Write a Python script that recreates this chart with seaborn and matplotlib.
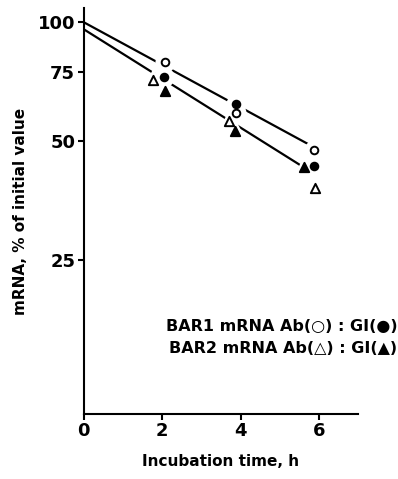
import numpy as np
import pandas as pd
import seaborn as sns
import matplotlib
matplotlib.use("Agg")
import matplotlib.pyplot as plt

# Data (time in h, mRNA as % of initial value)
bar1_ab_time = [2.08, 3.89, 5.87]
bar1_ab_value = [79.3, 59.0, 47.5]
bar1_gi_time = [2.05, 3.89, 5.87]
bar1_gi_value = [72.6, 62.0, 43.3]
bar2_ab_time = [1.78, 3.70, 5.91]
bar2_ab_value = [71.3, 56.2, 38.0]
bar2_gi_time = [2.08, 3.87, 5.61]
bar2_gi_value = [67.0, 53.0, 43.0]

# Fitted decay lines
fit1_time = [0, 6]
fit1_value = [100, 47.5]
fit2_time = [0, 5.6]
fit2_value = [96, 43]

y_ticks = [25, 50, 75, 100]
x_ticks = [0, 2, 4, 6]

sns.set_style("ticks")
plt.rcParams["font.family"] = ["DejaVu Sans"]
plt.rcParams["text.color"] = "black"
plt.rcParams["axes.labelcolor"] = "black"

fig = plt.figure(figsize=(3.98, 4.79), dpi=100)
ax = fig.add_axes([0.21, 0.1357, 0.69, 0.8473])

# fit lines
for t, v in [(fit1_time, fit1_value), (fit2_time, fit2_value)]:
    sns.lineplot(x=t, y=v, ax=ax, color="black", linewidth=1.6)
for ln in ax.lines:
    ln.set_zorder(2)

series = [
    (bar1_ab_time, bar1_ab_value, "o", "white", 30),
    (bar1_gi_time, bar1_gi_value, "o", "black", 30),
    (bar2_ab_time, bar2_ab_value, "^", "white", 45),
    (bar2_gi_time, bar2_gi_value, "^", "black", 45),
]

# white halos so the lines break around the symbols
for t, v, m, fc, s in series:
    sns.scatterplot(x=t, y=v, ax=ax, marker=m, s=s * 7, color="white",
                    edgecolor="white", linewidth=0)
    ax.collections[-1].set_zorder(3)
for t, v, m, fc, s in series:
    sns.scatterplot(x=t, y=v, ax=ax, marker=m, s=s, color=fc,
                    edgecolor="black", linewidth=1.4)
    ax.collections[-1].set_zorder(4)

ax.set_yscale("log")
ax.set_ylim(10.2, 108.5)
ax.set_xlim(0, 7)
ax.set_yticks(y_ticks)
ax.set_yticklabels([str(v) for v in y_ticks])
ax.yaxis.set_minor_locator(matplotlib.ticker.NullLocator())
ax.set_xticks(x_ticks)
ax.set_xticklabels([str(v) for v in x_ticks])

for side in ["top", "right"]:
    ax.spines[side].set_visible(False)
for side in ["left", "bottom"]:
    ax.spines[side].set_linewidth(1.5)
    ax.spines[side].set_color("black")
ax.tick_params(axis="both", direction="out", length=4, width=1.5,
               labelsize=13, colors="black", pad=2)
for lab in ax.get_xticklabels() + ax.get_yticklabels():
    lab.set_fontweight("bold")

ax.set_ylabel("mRNA, % of initial value", fontsize=11, fontweight="bold",
              labelpad=7)
ax.set_xlabel("Incubation time, h", fontsize=11, fontweight="bold",
              labelpad=10)

fig.text(0.998, 0.318, "BAR1 mRNA Ab(○) : GI(●)", ha="right", va="center",
         fontsize=11.5, fontweight="bold")
fig.text(0.998, 0.272, "BAR2 mRNA Ab(△) : GI(▲)", ha="right", va="center",
         fontsize=11.5, fontweight="bold")

fig.savefig("out.png", dpi=100)
